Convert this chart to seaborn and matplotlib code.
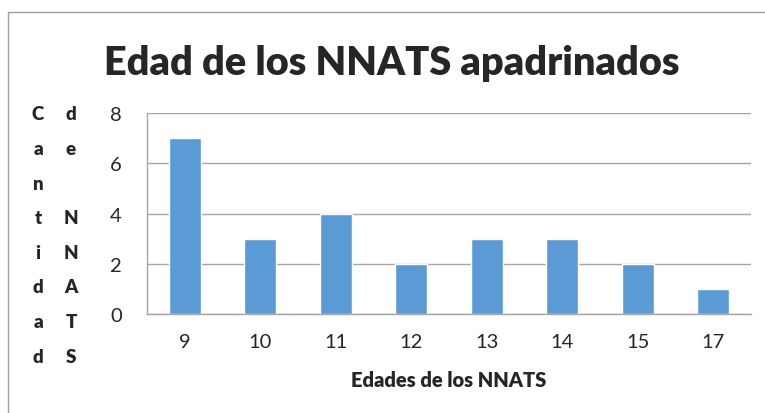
import matplotlib
matplotlib.use('Agg')
import matplotlib.pyplot as plt
from matplotlib.lines import Line2D
import seaborn as sns

ages = ['9', '10', '11', '12', '13', '14', '15', '17']
counts = [7, 3, 4, 2, 3, 3, 2, 1]
title = 'Edad de los NNATS apadrinados'
xlabel = 'Edades de los NNATS'
ylabel_col1 = 'Cantidad'
ylabel_col2 = 'de NNATS'

sns.set_style('white')
plt.rcParams['font.family'] = ['Lato', 'DejaVu Sans']

W, H = 765, 414
fig = plt.figure(figsize=(W / 100, H / 100), dpi=100)
ax = fig.add_axes([147 / W, 1 - 315 / H, (751 - 147) / W, (315 - 114) / H])

sns.barplot(x=ages, y=counts, color='#5B9BD5', saturation=1, width=0.42, ax=ax)

ax.set_ylim(0, 8)
ax.set_yticks([0, 2, 4, 6, 8])
ax.set_xlim(-0.5, len(ages) - 0.5)
ax.yaxis.grid(True, color='#a6a6a6', linewidth=1)
ax.set_axisbelow(True)
for s in ['top', 'right']:
    ax.spines[s].set_visible(False)
for s in ['left', 'bottom']:
    ax.spines[s].set_color('#a6a6a6')
    ax.spines[s].set_linewidth(1)

# x ticks between categories
ax.set_xticks([i + 0.5 for i in range(-1, len(ages))], minor=True)
ax.tick_params(axis='x', which='minor', length=7, color='#a6a6a6', direction='out')
ax.tick_params(axis='x', which='major', length=0, labelsize=14.5, pad=14, labelcolor='#262626')
ax.tick_params(axis='y', length=7, color='#a6a6a6', labelsize=14.5, pad=11, labelcolor='#262626')
ax.set_xlabel(xlabel, fontsize=14.5, fontweight='heavy', labelpad=14)
ax.set_ylabel('')

fig.text(0.512, 1 - 63 / H, title, ha='center', va='center', fontsize=28.5, fontweight='heavy')

for i, ch in enumerate(ylabel_col1):
    fig.text(38 / W, 1 - (115 + i * 34.6) / H, ch, ha='center', va='center',
             fontsize=13.5, fontweight='heavy')
for i, ch in enumerate(ylabel_col2):
    if ch != ' ':
        fig.text(71 / W, 1 - (115 + i * 34.6) / H, ch, ha='center', va='center',
                 fontsize=13.5, fontweight='heavy')

# chart frame
fig.add_artist(Line2D([8 / W, 1], [1 - 13 / H, 1 - 13 / H], color='#a0a0a0', lw=1))
fig.add_artist(Line2D([8 / W, 8 / W], [0, 1 - 13 / H], color='#a0a0a0', lw=1))

fig.savefig('out.png', dpi=100)
